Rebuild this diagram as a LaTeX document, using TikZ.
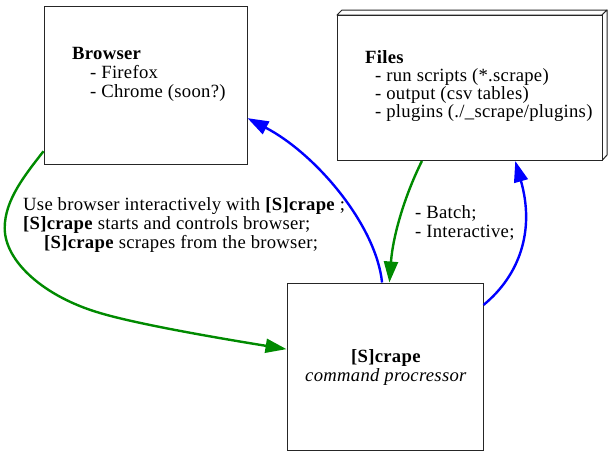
\documentclass[tikz,border=0pt]{standalone}
\usepackage{fontspec}
\setmainfont{Liberation Serif}[LetterSpace=1.5]
\usetikzlibrary{arrows.meta,calc}
\definecolor{egreen}{RGB}{0,138,0}
\definecolor{eblue}{RGB}{0,0,255}
\begin{document}
\begin{tikzpicture}[x=1pt,y=-1pt,
  box/.style={draw=black!85, line width=1pt, inner sep=0pt, fill=white},
  boxline/.style={draw=black!85, line width=1pt, line join=round, fill=white},
  lbl/.style={anchor=base west, inner sep=0pt, font=\fontsize{18.67}{19}\selectfont},
  clbl/.style={anchor=base, inner sep=0pt, font=\fontsize{18.67}{19}\selectfont},
  gedge/.style={draw=egreen, line width=2.4pt, -{Triangle[length=21pt,width=14pt]}},
  bedge/.style={draw=eblue, line width=2.4pt, -{Triangle[length=21pt,width=14pt]}}]
\useasboundingbox (0,0) rectangle (614,456);

% boxes
\node[box, minimum width=203pt, minimum height=158pt] (browser) at (145.5,85) {};
\path[boxline] (337,15) -- (342,10) -- (607,10) -- (602,15) -- cycle;
\path[boxline] (602,15) -- (607,10) -- (607,155) -- (602,160.5) -- cycle;
\node[box, minimum width=265pt, minimum height=145.5pt] (files) at (469.5,87.75) {};
\node[box, minimum width=196pt, minimum height=167pt] (scrape) at (385,366.5) {};

% box texts
\node[lbl] (b1) at (72,59) {\textbf{Browser}};
\node[lbl] (b2) at (90,78) {- Firefox};
\node[lbl] (b3) at (90,97) {- Chrome (soon?)};

\node[lbl] (f1) at (365,63) {\textbf{Files}};
\node[lbl] (f2) at (375,81.5) {- run scripts (*.scrape)};
\node[lbl] (f3) at (375,99.5) {- output (csv tables)};
\node[lbl] (f4) at (375,117.5) {- plugins (./\_scrape/plugins)};

\node[clbl] (s1) at (386,362.5) {\textbf{[S]crape}};
\node[clbl] (s2) at (386,381) {\textit{command procressor}};

% edge labels
\node[lbl] (e1) at (23,210) {Use browser interactively with \textbf{[S]crape} ;};
\node[lbl] (e2) at (23,229) {\textbf{[S]crape} starts and controls browser;};
\node[lbl] (e3) at (44,248) {\textbf{[S]crape} scrapes from the browser;};
\node[lbl] (e4) at (415,218) {- Batch;};
\node[lbl] (e5) at (415,237) {- Interactive;};

% edges
\draw[gedge] (browser.213) .. controls (25,175) and (4.7,200) .. (4.7,228)
  .. controls (4.7,262) and (45,297) .. (100,313)
  .. controls (140,325) and (230,340) .. (scrape.170);
\draw[bedge] (scrape.92) .. controls (376,225) and (316,154) .. (browser.342);
\draw[gedge] (files.237) .. controls (405,195) and (393,235) .. (scrape.87);
\draw[bedge] (scrape.32) .. controls (520,275) and (535,230) .. (files.302);
\end{tikzpicture}
\end{document}
